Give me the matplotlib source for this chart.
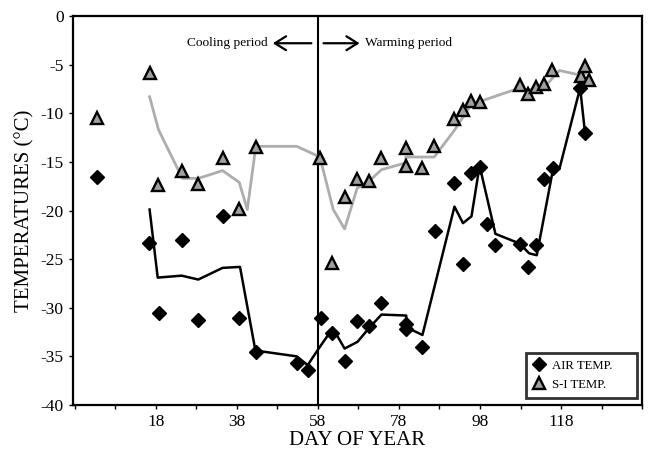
import numpy as np
import matplotlib
matplotlib.use('Agg')
import matplotlib.pyplot as plt
from matplotlib.ticker import MultipleLocator

plt.rcParams['font.family'] = ['Liberation Serif', 'DejaVu Serif']
plt.rcParams['axes.unicode_minus'] = False

# measured points
air_day = [3.5, 16.4, 18.7, 24.6, 28.5, 34.5, 38.6, 42.7, 52.8, 55.5, 58.7, 61.6, 64.6, 67.6,
           70.6, 73.7, 79.8, 79.8, 83.8, 86.9, 91.6, 93.8, 95.7, 97.9, 99.8, 101.8, 107.8,
           109.8, 111.9, 113.9, 116.0, 122.7, 123.9]
air_temp = [-16.6, -23.3, -30.5, -23.0, -31.3, -20.6, -31.1, -34.6, -35.7, -36.4, -31.1, -32.6,
            -35.5, -31.4, -31.9, -29.5, -31.7, -32.2, -34.0, -22.1, -17.2, -25.5, -16.1, -15.5,
            -21.4, -23.5, -23.4, -25.8, -23.5, -16.8, -15.6, -7.4, -12.0]

si_day = [3.5, 16.5, 18.5, 24.6, 28.5, 34.5, 38.6, 42.7, 58.5, 61.6, 64.6, 67.6, 70.6, 73.7,
          79.7, 79.7, 83.7, 86.7, 91.6, 93.8, 95.9, 97.9, 107.8, 109.8, 111.9, 113.9, 115.8,
          122.9, 123.8, 125.0]
si_temp = [-10.5, -5.9, -17.4, -15.9, -17.3, -14.6, -19.8, -13.5, -14.6, -25.4, -18.6, -16.8,
           -17.0, -14.6, -13.6, -15.4, -15.6, -13.4, -10.6, -9.7, -8.7, -8.8, -7.1, -8.0, -7.3,
           -7.0, -5.55, -6.2, -5.1, -6.6]

# smoothed curves
air_line_day = [16.5, 18.5, 24.4, 28.5, 34.5, 38.8, 42.6, 52.8, 55.5, 58.2, 61.7, 64.6, 67.8,
                70.6, 73.7, 79.8, 79.8, 83.8, 91.7, 93.8, 95.9, 97.9, 101.8, 107.8, 110.1, 112.0,
                115.9, 117.6, 122.7, 123.9]
air_line_temp = [-19.9, -26.9, -26.7, -27.1, -25.9, -25.8, -34.4, -35.0, -35.9, -34.2, -32.1,
                 -34.2, -33.5, -32.1, -30.7, -30.8, -32.0, -32.8, -19.6, -21.3, -20.6, -15.4,
                 -22.4, -23.4, -24.4, -24.6, -16.0, -15.7, -7.4, -12.0]

si_line_day = [16.5, 18.7, 24.6, 28.5, 34.5, 38.6, 40.6, 42.7, 52.8, 58.5, 61.8, 64.6, 67.7,
               70.6, 73.7, 79.7, 79.7, 86.7, 91.6, 93.8, 95.9, 97.9, 107.8, 109.8, 111.9, 113.9,
               117.6, 122.9, 124.0]
si_line_temp = [-8.3, -11.7, -16.7, -16.7, -15.9, -17.1, -19.9, -13.4, -13.4, -14.5, -19.9,
                -21.9, -17.7, -17.0, -15.8, -15.1, -14.5, -14.5, -11.8, -10.4, -9.1, -8.8, -7.4,
                -7.6, -7.4, -7.3, -5.6, -6.1, -5.9]

x_major = [18, 38, 58, 78, 98, 118]
y_ticks = [0, -5, -10, -15, -20, -25, -30, -35, -40]
split_day = 58

fig = plt.figure(figsize=(6.48, 4.51), dpi=100)
ax = fig.add_axes([0.112, 0.102, 0.879, 0.8625])

ax.plot(si_line_day, si_line_temp, color='#adadad', lw=2, zorder=2)
ax.plot(air_line_day, air_line_temp, color='black', lw=1.8, zorder=2)
ax.plot(air_day, air_temp, 'D', color='black', ms=7, ls='none', label='AIR TEMP.', zorder=3)
ax.plot(si_day, si_temp, '^', mfc='#a0a0a0', mec='black', mew=1.7, ms=8, ls='none',
        label='S-I TEMP.', zorder=3)

ax.axvline(split_day, color='black', lw=1.5, zorder=1)

arrow_style = '->,head_length=0.8,head_width=0.5'
ax.annotate('', xy=(46.9, -2.8), xytext=(56.4, -2.8),
            arrowprops=dict(arrowstyle=arrow_style, lw=1.6, color='black', shrinkA=0, shrinkB=0))
ax.annotate('', xy=(68.3, -2.8), xytext=(59.4, -2.8),
            arrowprops=dict(arrowstyle=arrow_style, lw=1.6, color='black', shrinkA=0, shrinkB=0))
ax.text(45.6, -2.8, 'Cooling period', ha='right', va='center', fontsize=9.6)
ax.text(69.6, -2.8, 'Warming period', ha='left', va='center', fontsize=9.6)

ax.set_xlim(-2.5, 138)
ax.set_ylim(-40, 0)
ax.set_xticks(x_major)
ax.xaxis.set_minor_locator(MultipleLocator(10, offset=8))
ax.set_yticks(y_ticks)
ax.set_yticklabels([str(v) for v in y_ticks])
ax.tick_params(axis='both', which='both', direction='out', length=3, width=1, labelsize=12.5)
for s in ax.spines.values():
    s.set_linewidth(1.6)

ax.set_xlabel('DAY OF YEAR', fontsize=15, labelpad=1)
ax.set_ylabel('TEMPERATURES (°C)', fontsize=15, labelpad=4)

leg = ax.legend(loc='lower left', bbox_to_anchor=(0.796, 0.018, 0.195, 0.121), mode='expand',
                borderaxespad=0, fontsize=9.2, frameon=True, fancybox=False, handlelength=1.0,
                handletextpad=0.5, labelspacing=0.55, borderpad=0.55)
leg.get_frame().set_edgecolor('black')
leg.get_frame().set_linewidth(2)

fig.savefig('out.png', dpi=100)
